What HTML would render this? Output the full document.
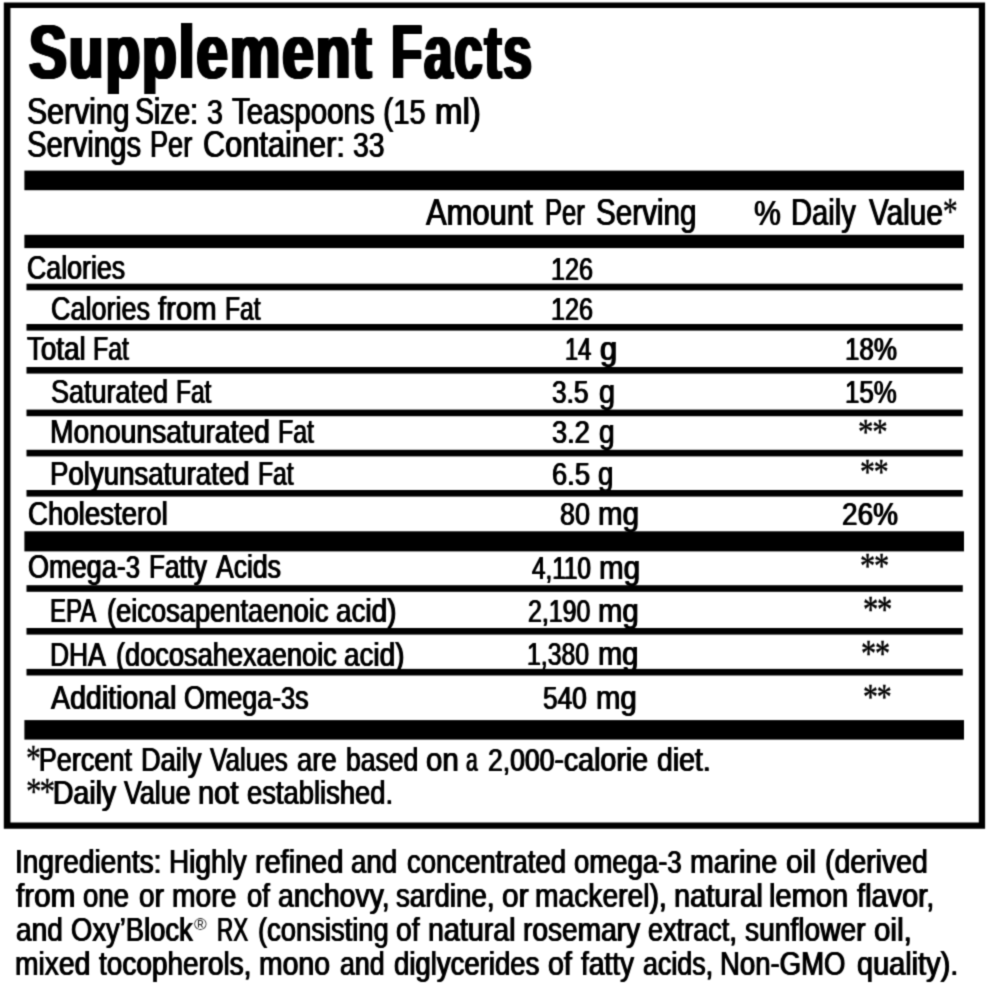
<!DOCTYPE html>
<html lang="en"><head><meta charset="utf-8"><title>Supplement Facts</title>
<style>
html,body{margin:0;padding:0;background:#fff;}
body{width:989px;height:986px;position:relative;overflow:hidden;font-family:"Liberation Sans",sans-serif;color:#000;}
.layer{position:absolute;left:0;top:0;width:100%;height:100%;will-change:transform;filter:url(#soft);}
.g{position:absolute;left:0;top:0;width:989px;height:986px;}
.ln{margin:0;padding:0;height:0;}
.t{position:absolute;display:block;white-space:nowrap;line-height:1;transform-origin:0 0;font-family:"Liberation Sans",sans-serif;text-shadow:-0.7px 0 0 #000,0.7px 0 0 #000;}
.b{font-weight:bold;letter-spacing:2.6px;text-shadow:-2.3px 0 0 #000,-1.5px 0 0 #000,-0.75px 0 0 #000,0.75px 0 0 #000,1.5px 0 0 #000,2.3px 0 0 #000;}
.d{font-size:0.93em;}
.a{font-family:"Liberation Serif",serif;font-size:37px;line-height:0;text-shadow:none;letter-spacing:-2.5px;-webkit-text-stroke:0.35px #000;}
.up{position:relative;top:-1.5px;}
.reg{font-size:0.56em;vertical-align:0.62em;line-height:0;text-shadow:none;margin:0 1px 0 1px;}
.rg{position:absolute;display:block;white-space:nowrap;line-height:1;transform-origin:0 0;font-family:"Liberation Sans",sans-serif;color:#222;}
.s{position:absolute;display:block;white-space:nowrap;line-height:1;transform-origin:0 0;font-family:"Liberation Serif",serif;-webkit-text-stroke:0.5px #000;letter-spacing:-1.5px;}
</style></head>
<body>
<svg width="0" height="0" style="position:absolute"><filter id="soft" x="0" y="0" width="100%" height="100%" color-interpolation-filters="sRGB"><feConvolveMatrix order="3" kernelMatrix="0.0311 0.1141 0.0311 0.1141 0.4191 0.1141 0.0311 0.1141 0.0311" edgeMode="duplicate" preserveAlpha="false"/></filter></svg>
<div class="layer">
<svg class="g" width="989" height="986" viewBox="0 0 989 986" fill="#000">
<path fill-rule="evenodd" d="M3.8 2.4H985.1V828.7H3.8ZM10.45 8.1H978.8V822.5H10.45Z"/>
<rect x="24.40" y="170.60" width="939.60" height="19.60"/>
<rect x="24.40" y="234.80" width="939.60" height="13.30"/>
<rect x="24.40" y="531.30" width="939.60" height="20.10"/>
<rect x="24.40" y="720.10" width="939.60" height="19.50"/>
<rect x="26.50" y="283.70" width="936.30" height="6.60"/>
<rect x="26.50" y="324.00" width="936.30" height="6.60"/>
<rect x="26.50" y="367.00" width="936.30" height="6.60"/>
<rect x="26.50" y="409.60" width="936.30" height="6.60"/>
<rect x="26.50" y="449.80" width="936.30" height="6.60"/>
<rect x="26.50" y="490.00" width="936.30" height="6.60"/>
<rect x="26.50" y="585.20" width="936.30" height="6.60"/>
<rect x="26.50" y="628.00" width="936.30" height="6.60"/>
<rect x="26.50" y="668.90" width="936.30" height="6.60"/>
</svg>
<div class="ln"><span class="t b" style="left:28.60px;top:13.70px;font-size:76.0px;transform:scaleX(0.7470)">Supplement</span> <span class="t b" style="left:391.08px;top:13.70px;font-size:76.0px;transform:scaleX(0.6741)">Facts</span></div>
<div class="ln"><span class="t" style="left:26.58px;top:94.10px;font-size:36.8px;transform:scaleX(0.8221)">Serving</span> <span class="t" style="left:135.43px;top:94.10px;font-size:36.8px;transform:scaleX(0.7705)">Size:</span> <span class="t" style="left:206.86px;top:94.10px;font-size:36.8px;transform:scaleX(0.8353)"><span class="d">3</span></span> <span class="t" style="left:232.10px;top:94.10px;font-size:36.8px;transform:scaleX(0.8017)">Teaspoons</span> <span class="t" style="left:383.31px;top:94.10px;font-size:36.8px;transform:scaleX(0.8458)">(<span class="d">15</span></span> <span class="t" style="left:434.90px;top:94.10px;font-size:36.8px;transform:scaleX(0.8979)">ml)</span></div>
<div class="ln"><span class="t" style="left:26.60px;top:127.40px;font-size:36.8px;transform:scaleX(0.7972)">Servings</span> <span class="t" style="left:150.03px;top:127.40px;font-size:36.8px;transform:scaleX(0.7364)">Per</span> <span class="t" style="left:202.56px;top:127.40px;font-size:36.8px;transform:scaleX(0.8355)">Container:</span> <span class="t" style="left:352.97px;top:127.40px;font-size:36.8px;transform:scaleX(0.8278)"><span class="d">33</span></span></div>
<div class="ln"><span class="t" style="left:426.40px;top:195.30px;font-size:36.8px;transform:scaleX(0.8417)">Amount</span> <span class="t" style="left:544.61px;top:195.30px;font-size:36.8px;transform:scaleX(0.6945)">Per</span> <span class="t" style="left:596.20px;top:195.30px;font-size:36.8px;transform:scaleX(0.8049)">Serving</span></div>
<div class="ln"><span class="t" style="left:754.12px;top:195.20px;font-size:36.8px;transform:scaleX(0.8828)"><span class="d">%</span></span> <span class="t" style="left:791.21px;top:195.20px;font-size:36.8px;transform:scaleX(0.7925)">Daily</span> <span class="t" style="left:868.50px;top:195.20px;font-size:36.8px;transform:scaleX(0.8083)">Value<span class="a up">*</span></span></div>
<div class="ln"><span class="t" style="left:27.41px;top:250.20px;font-size:34.0px;transform:scaleX(0.7870)">Calories</span></div>
<div class="ln"><span class="t" style="left:50.71px;top:290.50px;font-size:34.0px;transform:scaleX(0.7943)">Calories</span> <span class="t" style="left:157.50px;top:290.50px;font-size:34.0px;transform:scaleX(0.8627)">from</span> <span class="t" style="left:224.75px;top:290.50px;font-size:34.0px;transform:scaleX(0.7250)">Fat</span></div>
<div class="ln"><span class="t" style="left:27.00px;top:330.70px;font-size:34.0px;transform:scaleX(0.8171)">Total</span> <span class="t" style="left:92.64px;top:330.70px;font-size:34.0px;transform:scaleX(0.7312)">Fat</span></div>
<div class="ln"><span class="t" style="left:50.51px;top:374.30px;font-size:34.0px;transform:scaleX(0.7938)">Saturated</span> <span class="t" style="left:176.46px;top:374.30px;font-size:34.0px;transform:scaleX(0.7208)">Fat</span></div>
<div class="ln"><span class="t" style="left:50.04px;top:414.00px;font-size:34.0px;transform:scaleX(0.8310)">Monounsaturated</span> <span class="t" style="left:278.03px;top:414.00px;font-size:34.0px;transform:scaleX(0.7333)">Fat</span></div>
<div class="ln"><span class="t" style="left:50.08px;top:455.50px;font-size:34.0px;transform:scaleX(0.8120)">Polyunsaturated</span> <span class="t" style="left:257.85px;top:455.50px;font-size:34.0px;transform:scaleX(0.7271)">Fat</span></div>
<div class="ln"><span class="t" style="left:28.09px;top:495.60px;font-size:34.0px;transform:scaleX(0.8124)">Cholesterol</span></div>
<div class="ln"><span class="t" style="left:27.80px;top:548.80px;font-size:34.0px;transform:scaleX(0.7964)">Omega-<span class="d">3</span></span> <span class="t" style="left:149.47px;top:548.80px;font-size:34.0px;transform:scaleX(0.7662)">Fatty</span> <span class="t" style="left:215.90px;top:548.80px;font-size:34.0px;transform:scaleX(0.7805)">Acids</span></div>
<div class="ln"><span class="t" style="left:50.19px;top:593.40px;font-size:34.0px;transform:scaleX(0.7062)">EPA</span> <span class="t" style="left:106.60px;top:593.40px;font-size:34.0px;transform:scaleX(0.8025)">(eicosapentaenoic</span> <span class="t" style="left:335.88px;top:593.40px;font-size:34.0px;transform:scaleX(0.8197)">acid)</span></div>
<div class="ln"><span class="t" style="left:50.45px;top:636.60px;font-size:34.0px;transform:scaleX(0.7771)">DHA</span> <span class="t" style="left:115.90px;top:636.60px;font-size:34.0px;transform:scaleX(0.8000)">(docosahexaenoic</span> <span class="t" style="left:344.48px;top:636.60px;font-size:34.0px;transform:scaleX(0.8197)">acid)</span></div>
<div class="ln"><span class="t" style="left:50.90px;top:679.80px;font-size:34.0px;transform:scaleX(0.8399)">Additional</span> <span class="t" style="left:184.11px;top:679.80px;font-size:34.0px;transform:scaleX(0.7910)">Omega-<span class="d">3</span>s</span></div>
<div class="ln"><span class="t" style="left:551.41px;top:250.70px;font-size:34.0px;transform:scaleX(0.7960)"><span class="d">126</span></span></div>
<div class="ln"><span class="t" style="left:551.41px;top:290.70px;font-size:34.0px;transform:scaleX(0.7960)"><span class="d">126</span></span></div>
<div class="ln"><span class="t" style="left:565.01px;top:331.00px;font-size:34.0px;transform:scaleX(0.7455)"><span class="d">14</span></span> <span class="t" style="left:599.59px;top:331.00px;font-size:34.0px;transform:scaleX(0.9062)">g</span></div>
<div class="ln"><span class="t" style="left:551.77px;top:374.30px;font-size:34.0px;transform:scaleX(0.8310)"><span class="d">3.5</span></span> <span class="t" style="left:598.85px;top:374.30px;font-size:34.0px;transform:scaleX(0.8500)">g</span></div>
<div class="ln"><span class="t" style="left:552.34px;top:414.20px;font-size:34.0px;transform:scaleX(0.8619)"><span class="d">3.2</span></span> <span class="t" style="left:599.17px;top:414.20px;font-size:34.0px;transform:scaleX(0.8250)">g</span></div>
<div class="ln"><span class="t" style="left:551.64px;top:455.50px;font-size:34.0px;transform:scaleX(0.8643)"><span class="d">6.5</span></span> <span class="t" style="left:598.49px;top:455.50px;font-size:34.0px;transform:scaleX(0.8125)">g</span></div>
<div class="ln"><span class="t" style="left:559.55px;top:495.70px;font-size:34.0px;transform:scaleX(0.8529)"><span class="d">80</span></span> <span class="t" style="left:597.56px;top:495.70px;font-size:34.0px;transform:scaleX(0.8682)">mg</span></div>
<div class="ln"><span class="t" style="left:532.40px;top:549.50px;font-size:34.0px;transform:scaleX(0.7671)"><span class="d">4,110</span></span> <span class="t" style="left:599.26px;top:549.50px;font-size:34.0px;transform:scaleX(0.8705)">mg</span></div>
<div class="ln"><span class="t" style="left:527.51px;top:593.00px;font-size:34.0px;transform:scaleX(0.7885)"><span class="d">2,190</span></span> <span class="t" style="left:598.48px;top:593.00px;font-size:34.0px;transform:scaleX(0.8614)">mg</span></div>
<div class="ln"><span class="t" style="left:527.03px;top:636.40px;font-size:34.0px;transform:scaleX(0.7844)"><span class="d">1,380</span></span> <span class="t" style="left:597.99px;top:636.40px;font-size:34.0px;transform:scaleX(0.8545)">mg</span></div>
<div class="ln"><span class="t" style="left:543.27px;top:679.90px;font-size:34.0px;transform:scaleX(0.8294)"><span class="d">540</span></span> <span class="t" style="left:595.87px;top:679.90px;font-size:34.0px;transform:scaleX(0.8636)">mg</span></div>
<div class="ln"><span class="t" style="left:844.76px;top:331.00px;font-size:34.0px;transform:scaleX(0.8213)"><span class="d">18%</span></span></div>
<div class="ln"><span class="t" style="left:845.36px;top:374.20px;font-size:34.0px;transform:scaleX(0.8180)"><span class="d">15%</span></span></div>
<div class="ln"><span class="t" style="left:841.72px;top:495.50px;font-size:34.0px;transform:scaleX(0.8839)"><span class="d">26%</span></span></div>
<div class="ln"><span class="t" style="left:25.71px;top:741.60px;font-size:34.0px;transform:scaleX(0.7962)"><span class="a">*</span>Percent</span> <span class="t" style="left:140.90px;top:741.60px;font-size:34.0px;transform:scaleX(0.8000)">Daily</span> <span class="t" style="left:210.30px;top:741.60px;font-size:34.0px;transform:scaleX(0.7663)">Values</span> <span class="t" style="left:297.49px;top:741.60px;font-size:34.0px;transform:scaleX(0.8064)">are</span> <span class="t" style="left:346.02px;top:741.60px;font-size:34.0px;transform:scaleX(0.7800)">based</span> <span class="t" style="left:425.83px;top:741.60px;font-size:34.0px;transform:scaleX(0.8657)">on</span> <span class="t" style="left:466.18px;top:741.60px;font-size:34.0px;transform:scaleX(0.6158)">a</span> <span class="t" style="left:488.36px;top:741.60px;font-size:34.0px;transform:scaleX(0.8397)"><span class="d">2,000</span>-calorie</span> <span class="t" style="left:656.76px;top:741.60px;font-size:34.0px;transform:scaleX(0.8361)">diet.</span></div>
<div class="ln"><span class="t" style="left:25.62px;top:774.60px;font-size:34.0px;transform:scaleX(0.8387)"><span class="a">**</span>Daily</span> <span class="t" style="left:123.80px;top:774.60px;font-size:34.0px;transform:scaleX(0.7881)">Value</span> <span class="t" style="left:198.49px;top:774.60px;font-size:34.0px;transform:scaleX(0.8565)">not</span> <span class="t" style="left:247.39px;top:774.60px;font-size:34.0px;transform:scaleX(0.8051)">established.</span></div>
<div class="ln"><span class="t" style="left:14.95px;top:844.30px;font-size:34.0px;transform:scaleX(0.8243)">Ingredients:</span> <span class="t" style="left:168.85px;top:844.30px;font-size:34.0px;transform:scaleX(0.8226)">Highly</span> <span class="t" style="left:254.50px;top:844.30px;font-size:34.0px;transform:scaleX(0.8500)">refined</span> <span class="t" style="left:350.79px;top:844.30px;font-size:34.0px;transform:scaleX(0.8130)">and</span> <span class="t" style="left:406.69px;top:844.30px;font-size:34.0px;transform:scaleX(0.8088)">concentrated</span> <span class="t" style="left:574.09px;top:844.30px;font-size:34.0px;transform:scaleX(0.8099)">omega-<span class="d">3</span></span> <span class="t" style="left:690.02px;top:844.30px;font-size:34.0px;transform:scaleX(0.8386)">marine</span> <span class="t" style="left:786.12px;top:844.30px;font-size:34.0px;transform:scaleX(0.8813)">oil</span> <span class="t" style="left:824.76px;top:844.30px;font-size:34.0px;transform:scaleX(0.8375)">(derived</span></div>
<div class="ln"><span class="t" style="left:15.90px;top:878.10px;font-size:34.0px;transform:scaleX(0.8731)">from</span> <span class="t" style="left:82.79px;top:878.10px;font-size:34.0px;transform:scaleX(0.8109)">one</span> <span class="t" style="left:138.68px;top:878.10px;font-size:34.0px;transform:scaleX(0.8241)">or</span> <span class="t" style="left:172.44px;top:878.10px;font-size:34.0px;transform:scaleX(0.8307)">more</span> <span class="t" style="left:246.89px;top:878.10px;font-size:34.0px;transform:scaleX(0.8071)">of</span> <span class="t" style="left:278.16px;top:878.10px;font-size:34.0px;transform:scaleX(0.8362)">anchovy,</span> <span class="t" style="left:396.09px;top:878.10px;font-size:34.0px;transform:scaleX(0.8144)">sardine,</span> <span class="t" style="left:502.02px;top:878.10px;font-size:34.0px;transform:scaleX(0.8793)">or</span> <span class="t" style="left:535.24px;top:878.10px;font-size:34.0px;transform:scaleX(0.8305)">mackerel),</span> <span class="t" style="left:673.69px;top:878.10px;font-size:34.0px;transform:scaleX(0.8540)">natural</span> <span class="t" style="left:768.99px;top:878.10px;font-size:34.0px;transform:scaleX(0.8551)">lemon</span> <span class="t" style="left:856.70px;top:878.10px;font-size:34.0px;transform:scaleX(0.8523)">flavor,</span></div>
<div class="ln"><span class="t" style="left:15.57px;top:911.90px;font-size:34.0px;transform:scaleX(0.8259)">and</span> <span class="t" style="left:70.79px;top:911.90px;font-size:34.0px;transform:scaleX(0.8060)">Oxy’Block</span> <span class="t" style="left:216.68px;top:911.90px;font-size:34.0px;transform:scaleX(0.6600)">RX</span> <span class="t" style="left:258.20px;top:911.90px;font-size:34.0px;transform:scaleX(0.8044)">(consisting</span> <span class="t" style="left:396.07px;top:911.90px;font-size:34.0px;transform:scaleX(0.8321)">of</span> <span class="t" style="left:428.22px;top:911.90px;font-size:34.0px;transform:scaleX(0.8420)">natural</span> <span class="t" style="left:523.15px;top:911.90px;font-size:34.0px;transform:scaleX(0.8264)">rosemary</span> <span class="t" style="left:648.20px;top:911.90px;font-size:34.0px;transform:scaleX(0.7972)">extract,</span> <span class="t" style="left:744.87px;top:911.90px;font-size:34.0px;transform:scaleX(0.8283)">sunflower</span> <span class="t" style="left:873.83px;top:911.90px;font-size:34.0px;transform:scaleX(0.8700)">oil,</span></div>
<div class="ln"><span class="t" style="left:14.74px;top:945.70px;font-size:34.0px;transform:scaleX(0.8299)">mixed</span> <span class="t" style="left:98.50px;top:945.70px;font-size:34.0px;transform:scaleX(0.8230)">tocopherols,</span> <span class="t" style="left:258.73px;top:945.70px;font-size:34.0px;transform:scaleX(0.8354)">mono</span> <span class="t" style="left:340.21px;top:945.70px;font-size:34.0px;transform:scaleX(0.7852)">and</span> <span class="t" style="left:393.99px;top:945.70px;font-size:34.0px;transform:scaleX(0.8096)">diglycerides</span> <span class="t" style="left:548.16px;top:945.70px;font-size:34.0px;transform:scaleX(0.8429)">of</span> <span class="t" style="left:581.10px;top:945.70px;font-size:34.0px;transform:scaleX(0.8262)">fatty</span> <span class="t" style="left:643.21px;top:945.70px;font-size:34.0px;transform:scaleX(0.7894)">acids,</span> <span class="t" style="left:720.08px;top:945.70px;font-size:34.0px;transform:scaleX(0.8099)">Non-GMO</span> <span class="t" style="left:856.85px;top:945.70px;font-size:34.0px;transform:scaleX(0.8509)">quality).</span></div>
<div class="ln"><span class="s" style="left:858.41px;top:413.80px;font-size:36.53px;transform:scaleX(0.8452)">**</span></div>
<div class="ln"><span class="s" style="left:859.58px;top:454.40px;font-size:36.80px;transform:scaleX(0.8094)">**</span></div>
<div class="ln"><span class="s" style="left:860.04px;top:548.10px;font-size:36.53px;transform:scaleX(0.8323)">**</span></div>
<div class="ln"><span class="s" style="left:862.66px;top:591.30px;font-size:37.33px;transform:scaleX(0.8188)">**</span></div>
<div class="ln"><span class="s" style="left:860.88px;top:635.10px;font-size:37.33px;transform:scaleX(0.8094)">**</span></div>
<div class="ln"><span class="s" style="left:863.27px;top:678.90px;font-size:36.80px;transform:scaleX(0.8125)">**</span></div>
<div class="ln"><span class="rg" style="left:193.90px;top:915.50px;font-size:17.29px;transform:scaleX(1.0000)">®</span></div>
</div>
</body></html>
